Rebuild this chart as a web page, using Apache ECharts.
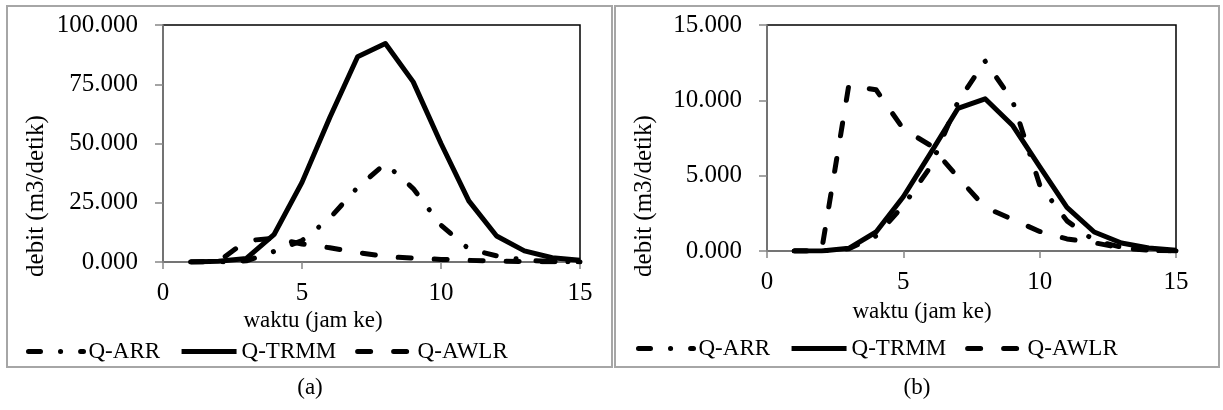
<!DOCTYPE html>
<html>
<head>
<meta charset="utf-8">
<script src="https://cdn.jsdelivr.net/npm/echarts@6/dist/echarts.min.js"></script>
<style>
  html, body { margin: 0; padding: 0; background: #fff; }
  #chart { width: 1223px; height: 410px; }
</style>
</head>
<body>
<div id="chart"></div>
<script>
// jam ke-1 .. ke-15
var hours = [1, 2, 3, 4, 5, 6, 7, 8, 9, 10, 11, 12, 13, 14, 15];
var seriesNames = ['Q-ARR', 'Q-TRMM', 'Q-AWLR'];

// panel (a)
var arrA  = [0, 0, 0.5, 4.5, 9, 18.5, 31.5, 41.5, 31, 15.5, 5.5, 2.6, 0.8, 0.2, 0.1];
var trmmA = [0, 0.3, 1.5, 11.7, 33.6, 61, 86.6, 92.2, 76, 50, 25.8, 11, 4.7, 1.8, 0.7];
var awlrA = [0, 0.2, 9.0, 10.0, 7.6, 6.0, 4.0, 2.3, 1.6, 1.1, 0.7, 0.4, 0.2, 0.1, 0.05];

// panel (b)
var arrB  = [0, 0, 0.15, 1.0, 3.0, 5.6, 9.9, 12.6, 10.0, 4.4, 2.0, 0.7, 0.25, 0.05, 0];
var trmmB = [0, 0, 0.18, 1.26, 3.6, 6.5, 9.46, 10.1, 8.35, 5.6, 2.9, 1.26, 0.53, 0.2, 0.05];
var awlrB = [0, 0, 11.0, 10.7, 8.1, 7.0, 4.9, 2.9, 2.1, 1.3, 0.8, 0.55, 0.2, 0.05, 0];

var yMaxA = 100, yStepA = 25;
var yMaxB = 15, yStepB = 5;
var xMax = 15, xStep = 5;

var FONT = "'Liberation Serif', 'Times New Roman', serif";
var AXIS_GRAY = '#868686';
var BOX_GRAY = '#a6a6a6';

function pairs(vals) {
  return hours.map(function (h, i) { return [h, vals[i]]; });
}

// ARR = long dash + dot, AWLR = dash, TRMM = solid
var styles = {
  'Q-ARR':  { type: [12, 20, 0.1, 20], cap: 'round' },
  'Q-TRMM': { type: 'solid', cap: 'butt' },
  'Q-AWLR': { type: [13, 23], cap: 'round' }
};

function line(name, vals, idx) {
  var st = styles[name];
  return {
    name: name, type: 'line', xAxisIndex: idx, yAxisIndex: idx,
    data: pairs(vals), symbol: 'none', silent: true, animation: false,
    lineStyle: { color: '#000', width: 5, type: st.type, cap: st.cap, join: 'round' },
    itemStyle: { color: '#000' }
  };
}

function xAxis(idx) {
  return {
    gridIndex: idx, type: 'value', min: 0, max: xMax, interval: xStep,
    axisLine: { lineStyle: { color: AXIS_GRAY, width: 1.5 } },
    axisTick: { show: true, length: 7, lineStyle: { color: AXIS_GRAY, width: 1.5 } },
    splitLine: { show: false },
    axisLabel: { fontFamily: FONT, fontSize: 25, color: '#000', margin: 19 }
  };
}

function yAxis(idx, max, step) {
  return {
    gridIndex: idx, type: 'value', min: 0, max: max, interval: step,
    axisLine: { show: true, lineStyle: { color: AXIS_GRAY, width: 1.5 } },
    axisTick: { show: true, length: 8, lineStyle: { color: AXIS_GRAY, width: 1.5 } },
    splitLine: { show: false },
    axisLabel: {
      fontFamily: FONT, fontSize: 25, color: '#000', margin: 25,
      formatter: function (v) { return v.toFixed(3); }
    }
  };
}

// legend icon: keep the dashed line at full width, hide the symbol dot
function legend(left, top) {
  return {
    data: seriesNames, left: left, top: top, orient: 'horizontal',
    itemWidth: 55, itemHeight: 10, itemGap: 19, selectedMode: false,
    lineStyle: { width: 5 },
    itemStyle: { opacity: 0 },
    textStyle: { fontFamily: FONT, fontSize: 23, color: '#000' }
  };
}

function label(txt, x, y, rot, size) {
  return {
    type: 'text', x: x, y: y, rotation: rot || 0, silent: true,
    style: { text: txt, fontFamily: FONT, fontSize: size || 23, fill: '#000', align: 'center', verticalAlign: 'middle' }
  };
}

function box(x, y, w, h) {
  return {
    type: 'rect', silent: true, z: -1,
    shape: { x: x, y: y, width: w, height: h },
    style: { fill: 'none', stroke: BOX_GRAY, lineWidth: 2 }
  };
}

var option = {
  backgroundColor: '#fff',
  animation: false,
  grid: [
    { left: 163, top: 25, width: 417, height: 237, show: true, borderColor: '#000', borderWidth: 1.5, containLabel: false },
    { left: 767, top: 25, width: 409, height: 226, show: true, borderColor: '#000', borderWidth: 1.5, containLabel: false }
  ],
  xAxis: [xAxis(0), xAxis(1)],
  yAxis: [yAxis(0, yMaxA, yStepA), yAxis(1, yMaxB, yStepB)],
  legend: [legend(21, 335), legend(631, 332)],
  series: [
    line('Q-ARR', arrA, 0), line('Q-TRMM', trmmA, 0), line('Q-AWLR', awlrA, 0),
    line('Q-ARR', arrB, 1), line('Q-TRMM', trmmB, 1), line('Q-AWLR', awlrB, 1)
  ],
  graphic: [
    box(7, 6, 605, 361),
    box(615, 6, 604, 361),
    label('debit (m3/detik)', 36, 196, Math.PI / 2, 25),
    label('debit (m3/detik)', 644, 196, Math.PI / 2, 25),
    label('waktu (jam ke)', 313, 321),
    label('waktu (jam ke)', 922, 312),
    label('(a)', 310, 388),
    label('(b)', 917, 388)
  ]
};

var chart = echarts.init(document.getElementById('chart'), null, { renderer: 'canvas' });
chart.setOption(option);
</script>
</body>
</html>
